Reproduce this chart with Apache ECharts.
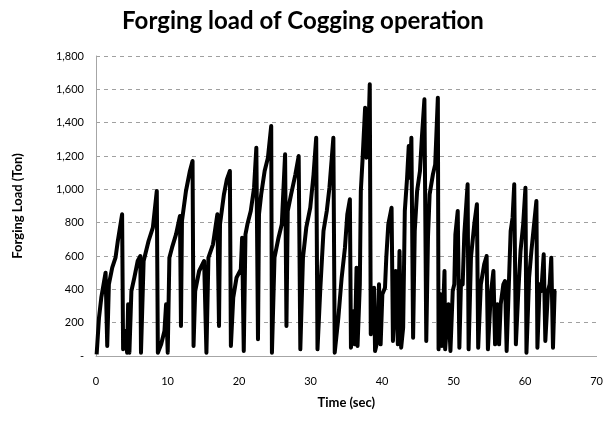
<!DOCTYPE html>
<html>
<head>
<meta charset="utf-8">
<script src="https://cdn.jsdelivr.net/npm/echarts@6/dist/echarts.min.js"></script>
<style>
  html, body { margin: 0; padding: 0; background: #fff; }
  #chart { width: 606px; height: 421px; }
</style>
</head>
<body>
<div id="chart"></div>
<script>
// time (sec) and forging load (ton)
var time = [
  0.09, 0.42, 0.74, 1.34, 1.57, 1.80, 2.27, 2.73, 3.05, 3.65, 3.79, 4.11, 4.35, 4.49, 4.67, 4.95,
  5.36, 5.83, 6.20, 6.29, 6.66, 7.35, 7.95, 8.50, 8.65, 9.11, 9.57, 9.80, 10.03, 10.26, 10.63, 11.19,
  11.74, 11.88, 12.02, 12.58, 13.13, 13.50, 13.64, 13.87, 14.42, 15.12, 15.44, 15.72, 16.36, 16.97,
  17.20, 17.34, 17.89, 18.30, 18.72, 18.86, 19.19, 19.65, 20.25, 20.43, 20.66, 20.90, 21.17, 21.64,
  22.10, 22.42, 22.65, 22.79, 23.10, 23.58, 24.04, 24.50, 24.60, 24.96, 25.52, 25.98, 26.44, 26.63,
  26.81, 27.28, 27.88, 28.34, 28.57, 28.94, 29.40, 29.96, 30.42, 30.79, 30.97, 31.35, 31.81, 32.27,
  32.64, 33.19, 33.38, 33.89, 34.35, 34.81, 35.14, 35.50, 35.65, 36.06, 36.20, 36.43, 36.57, 36.89,
  37.03, 37.26, 37.63, 37.82, 38.10, 38.28, 38.42, 38.65, 38.88, 39.02, 39.35, 39.57, 39.80, 40.04,
  40.41, 40.59, 40.87, 41.33, 41.52, 41.90, 42.21, 42.44, 42.67, 42.95, 43.18, 43.50, 43.73, 43.87,
  44.10, 44.34, 44.57, 44.90, 45.30, 45.55, 45.92, 46.18, 46.42, 46.65, 47.11, 47.43, 47.80, 47.90,
  48.17, 48.36, 48.73, 48.82, 49.28, 49.56, 49.88, 50.10, 50.25, 50.58, 50.81, 51.04, 51.27, 51.50,
  51.96, 52.10, 52.43, 52.89, 53.26, 53.44, 53.81, 54.28, 54.62, 54.80, 55.20, 55.57, 55.80, 56.12,
  56.36, 56.59, 56.96, 57.19, 57.42, 57.79, 57.98, 58.25, 58.48, 58.71, 59.03, 59.36, 59.73, 60.05,
  60.19, 60.56, 60.88, 61.25, 61.58, 61.72, 62.04, 62.27, 62.60, 62.83, 63.20, 63.43, 63.66, 63.90,
  64.13, 64.36
]
var load = [
  10, 230, 350, 500, 60, 430, 530, 590, 690, 850, 40, 150, 20, 310, 20, 390,
  470, 570, 600, 20, 570, 690, 770, 990, 20, 70, 150, 310, 20, 590, 650, 730,
  840, 180, 810, 990, 1110, 1170, 60, 390, 510, 570, 20, 590, 670, 850,
  180, 790, 970, 1060, 1110, 60, 350, 470, 520, 710, 30, 730, 790, 870,
  1010, 1250, 100, 850, 970, 1110, 1190, 1380, 20, 590, 710, 790, 1210, 180,
  870, 970, 1090, 1200, 40, 590, 770, 890, 1090, 1310, 40, 390, 750, 870,
  1010, 1310, 20, 230, 470, 650, 850, 940, 50, 270, 70, 530, 60, 430,
  990, 1170, 1490, 1190, 1350, 1630, 130, 120, 410, 30, 90, 430, 70, 370,
  410, 590, 790, 890, 90, 510, 70, 630, 50, 170, 870, 1070, 1260, 1070,
  1310, 110, 750, 990, 1110, 1300, 1540, 90, 710, 970, 1090, 1150, 1550, 40,
  370, 60, 510, 40, 310, 30, 390, 430, 730, 870, 50, 450, 430, 730,
  1030, 40, 590, 790, 910, 50, 430, 550, 600, 40, 370, 510, 70, 310,
  70, 310, 430, 450, 30, 510, 750, 830, 1030, 70, 370, 630, 790, 1010,
  20, 470, 630, 790, 930, 50, 430, 390, 610, 90, 390, 430, 590, 50,
  390, 390
]
var yTicks = [0, 200, 400, 600, 800, 1000, 1200, 1400, 1600, 1800]
var xTicks = [0, 10, 20, 30, 40, 50, 60, 70]

var points = time.map(function (t, i) { return [t, load[i]] })

var chart = echarts.init(document.getElementById('chart'))
var font = 'Lato, "Open Sans", sans-serif'

chart.setOption({
  animation: false,
  title: {
    text: 'Forging load of Cogging operation',
    left: 'center',
    top: 4,
    textStyle: { fontFamily: font, fontSize: 24, fontWeight: 'bold', color: '#000' }
  },
  grid: {
    left: 96,
    right: 8,
    top: 56,
    bottom: 65
  },
  xAxis: {
    type: 'value',
    min: xTicks[0],
    max: xTicks[xTicks.length - 1],
    interval: 10,
    name: 'Time (sec)',
    nameLocation: 'middle',
    nameGap: 40,
    nameTextStyle: { fontFamily: font, fontSize: 13, fontWeight: 'bold', color: '#000' },
    axisLine: { lineStyle: { color: '#a6a6a6', width: 1 } },
    axisTick: { show: false },
    splitLine: { show: false },
    axisLabel: { fontFamily: font, fontSize: 11, color: '#000', margin: 20 }
  },
  yAxis: {
    type: 'value',
    min: yTicks[0],
    max: yTicks[yTicks.length - 1],
    interval: 200,
    name: 'Forging Load (Ton)',
    nameLocation: 'middle',
    nameGap: 72,
    nameTextStyle: { fontFamily: font, fontSize: 13, fontWeight: 'bold', color: '#000' },
    axisLine: { show: true, lineStyle: { color: '#a6a6a6', width: 1 } },
    axisTick: { show: false },
    splitLine: { lineStyle: { color: '#a0a0a0', type: [4, 4], width: 1 } },
    axisLabel: {
      fontFamily: font,
      fontSize: 11,
      color: '#000',
      margin: 12,
      formatter: function (v) { return v === 0 ? '-' : v.toLocaleString('en-US') }
    }
  },
  series: [
    {
      type: 'line',
      data: points,
      showSymbol: false,
      lineStyle: { color: '#000', width: 4, join: 'round' },
      itemStyle: { color: '#000' }
    }
  ]
})
</script>
</body>
</html>
